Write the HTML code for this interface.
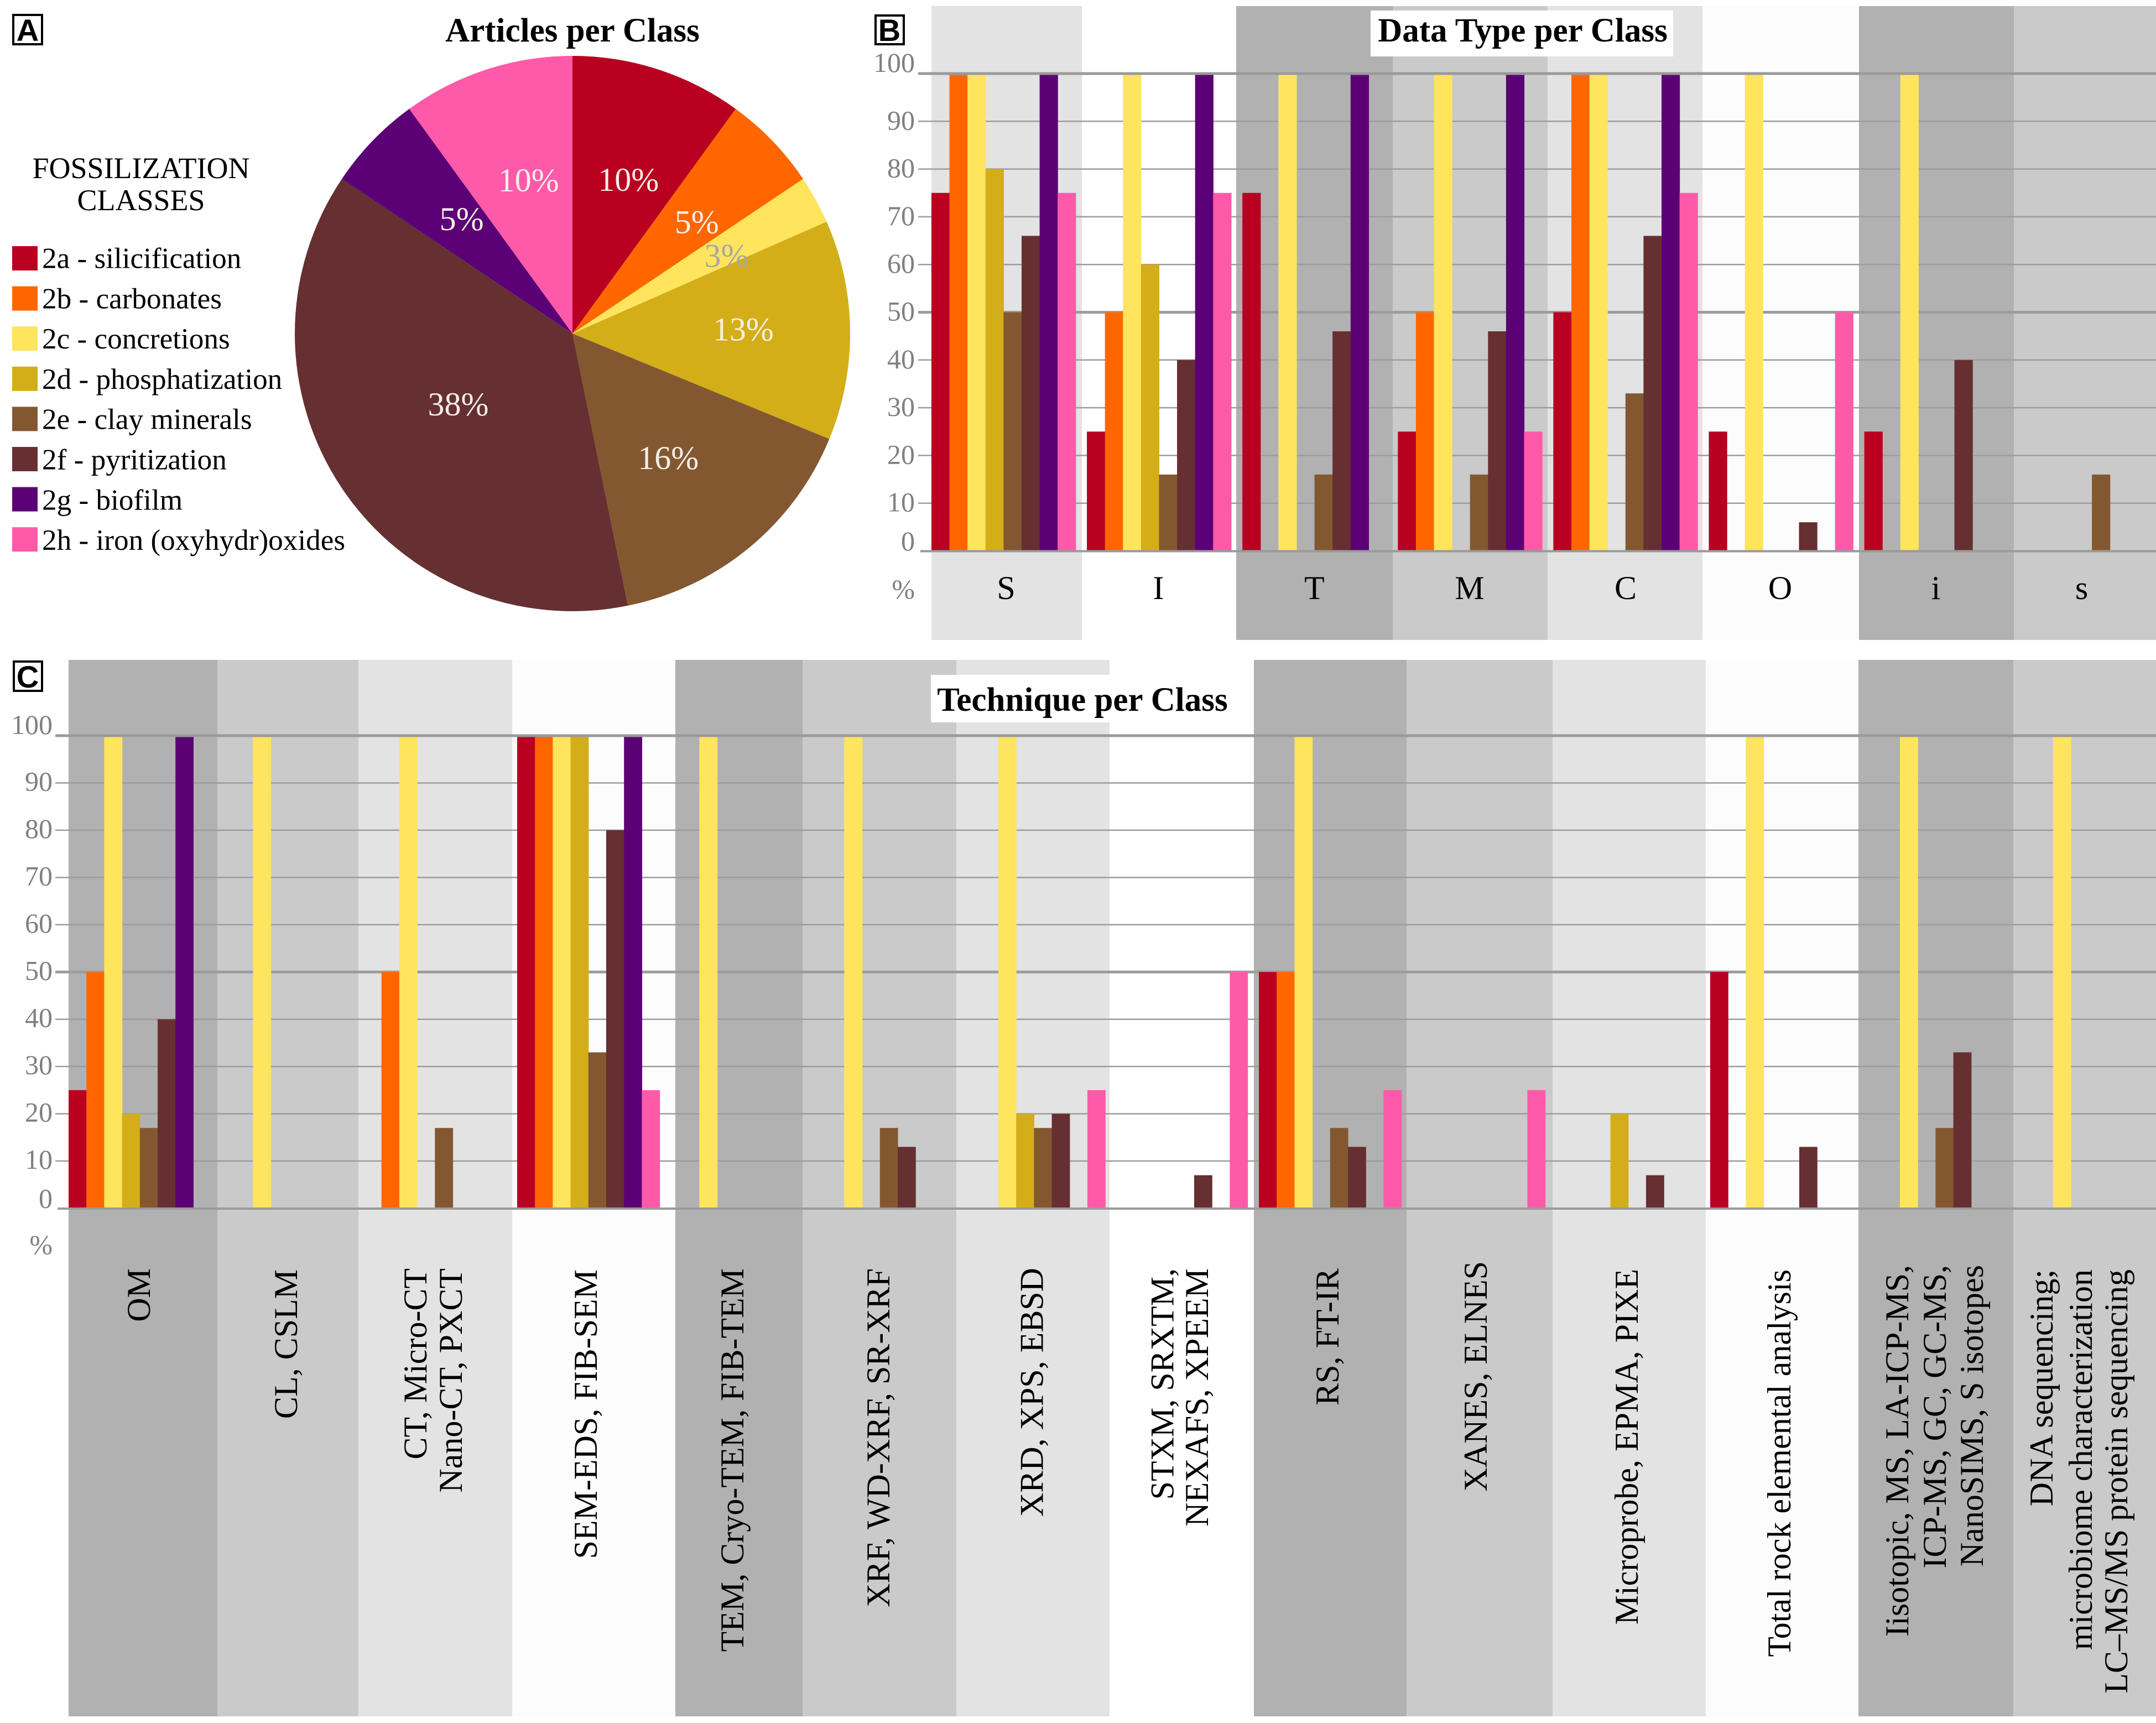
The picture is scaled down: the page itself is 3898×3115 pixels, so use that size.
<!DOCTYPE html>
<html lang="en">
<head>
<meta charset="utf-8">
<title>Fossilization classes chart</title>
<style>
  html, body { margin: 0; padding: 0; background: #ffffff; }
  svg { display: block; font-family: "Liberation Serif", "Times New Roman", serif; }
  .tick { fill: #808080; font-size: 50px; text-anchor: end; }
  .cat { fill: #000000; font-size: 60px; text-anchor: middle; }
  .vlabel { fill: #000000; font-size: 60px; text-anchor: end; }
  .title { fill: #000000; font-size: 61px; font-weight: bold; text-anchor: middle; }
  .legend-text { fill: #000000; font-size: 53.2px; }
  .legend-title { fill: #000000; font-size: 54px; text-anchor: middle; }
  .pie-label { font-size: 60px; text-anchor: middle; }
  .panel-letter { fill: #000000; font-family: "Liberation Sans", Arial, sans-serif; font-size: 56px; font-weight: bold; text-anchor: middle; }
</style>
</head>
<body>
<svg id="figure" xmlns="http://www.w3.org/2000/svg" width="3898" height="3115" viewBox="0 0 3898 3115">
  <rect x="0" y="0" width="3898" height="3115" fill="#ffffff"/>

  <g id="panel-a">
    <g id="pie"></g>
    <g id="pie-labels"></g>
    <text class="title" x="1035" y="75">Articles per Class</text>
    <text class="legend-title" x="255" y="322">FOSSILIZATION</text>
    <text class="legend-title" x="255" y="380">CLASSES</text>
    <g id="legend"></g>
    <rect x="24" y="27" width="52" height="53" fill="#ffffff" stroke="#000000" stroke-width="4"/>
    <text class="panel-letter" x="50" y="74">A</text>
  </g>

  <g id="panel-b"></g>
  <g id="panel-c"></g>

  <g>
    <rect x="2478" y="19" width="547" height="83" fill="#ffffff"/>
    <text class="title" x="2753" y="75">Data Type per Class</text>
    <rect x="1583" y="28" width="51" height="52" fill="#ffffff" stroke="#000000" stroke-width="4"/>
    <text class="panel-letter" x="1608" y="74">B</text>
  </g>
  <g>
    <rect x="1683" y="1220" width="550" height="86" fill="#ffffff"/>
    <text class="title" x="1957" y="1285">Technique per Class</text>
    <rect x="25" y="1196" width="51" height="53" fill="#ffffff" stroke="#000000" stroke-width="4"/>
    <text class="panel-letter" x="50" y="1243">C</text>
  </g>
</svg>

<script>
/* ---------- shared categories ---------- */
const seriesNames = ['2a - silicification', '2b - carbonates', '2c - concretions', '2d - phosphatization', '2e - clay minerals', '2f - pyritization', '2g - biofilm', '2h - iron (oxyhydr)oxides'];
const seriesKeys = ['silicification', 'carbonates', 'concretions', 'phosphatization', 'clay-minerals', 'pyritization', 'biofilm', 'iron-oxides'];
const seriesColors = ['#b90021', '#ff6600', '#ffe45e', '#d3ae18', '#835831', '#662f31', '#5c0075', '#ff5aa9'];

/* ---------- panel A values ---------- */
const pieValues = [10, 5.6, 2.8, 12.8, 15.6, 37.6, 5.6, 10];
const pieLabels = ['10%', '5%', '3%', '13%', '16%', '38%', '5%', '10%'];

/* ---------- panel B values ---------- */
const typeClasses = ['S', 'I', 'T', 'M', 'C', 'O', 'i', 's'];
const typeSilicification = [75, 25, 75, 25, 50, 25, 25, 0];
const typeCarbonates = [100, 50, 0, 50, 100, 0, 0, 0];
const typeConcretions = [100, 100, 100, 100, 100, 100, 100, 0];
const typePhosphatization = [80, 60, 0, 0, 0, 0, 0, 0];
const typeClayMinerals = [50, 16, 16, 16, 33, 0, 0, 16];
const typePyritization = [66, 40, 46, 46, 66, 6, 40, 0];
const typeBiofilm = [100, 100, 100, 100, 100, 0, 0, 0];
const typeIronOxides = [75, 75, 0, 25, 75, 50, 0, 0];

/* ---------- panel C values ---------- */
const techClasses = [
  ['OM'], ['CL, CSLM'], ['CT, Micro-CT', 'Nano-CT, PXCT'], ['SEM-EDS, FIB-SEM'],
  ['TEM, Cryo-TEM, FIB-TEM'], ['XRF, WD-XRF, SR-XRF'], ['XRD, XPS, EBSD'],
  ['STXM, SRXTM,', 'NEXAFS, XPEEM'], ['RS, FT-IR'], ['XANES, ELNES'],
  ['Microprobe, EPMA, PIXE'], ['Total rock elemental analysis'],
  ['Iisotopic, MS, LA-ICP-MS,', 'ICP-MS, GC, GC-MS,', 'NanoSIMS, S isotopes'],
  ['DNA sequencing;', 'microbiome characterization', 'LC\u2013MS/MS protein sequencing']
];
const techSilicification = [25, 0, 0, 100, 0, 0, 0, 0, 50, 0, 0, 50, 0, 0];
const techCarbonates = [50, 0, 50, 100, 0, 0, 0, 0, 50, 0, 0, 0, 0, 0];
const techConcretions = [100, 100, 100, 100, 100, 100, 100, 0, 100, 0, 0, 100, 100, 100];
const techPhosphatization = [20, 0, 0, 100, 0, 0, 20, 0, 0, 0, 20, 0, 0, 0];
const techClayMinerals = [17, 0, 17, 33, 0, 17, 17, 0, 17, 0, 0, 0, 17, 0];
const techPyritization = [40, 0, 0, 80, 0, 13, 20, 7, 13, 0, 7, 13, 33, 0];
const techBiofilm = [100, 0, 0, 100, 0, 0, 0, 0, 0, 0, 0, 0, 0, 0];
const techIronOxides = [0, 0, 0, 25, 0, 0, 25, 50, 25, 25, 0, 0, 0, 0];

const axisTicks = [0, 10, 20, 30, 40, 50, 60, 70, 80, 90, 100];

/* ---------- layout only (not data) ---------- */
const pieGeom = { cx: 1035, cy: 603, r: 502 };
const pieLabelRadius = [296, 302, 312, 309, 284, 243, 288, 288];
const pieLabelTurn = [0.035, 0.035, 0.035, -0.012, 0.035, 0.035, 0.035, 0.035];
const pieLabelColors = ['#f3efe8', '#f3efe8', '#a6a6a6', '#f3efe8', '#f3efe8', '#f3efe8', '#f3efe8', '#f3efe8'];

const layoutB = {
  bandEdges: [1684, 1956, 2235, 2518, 2798, 3078, 3361, 3641, 3898],
  bandFills: ['#e3e3e3', '#ffffff', '#b1b1b1', '#cacaca', '#e3e3e3', '#fcfcfc', '#b1b1b1', '#cacaca'],
  bandTop: 11, bandBottom: 1157, y100: 133, y0: 996,
  gridStart: 1660, gridEnd: 3898, tickRight: 1654, slot: 32.6,
  tickDrop: 15, percentY: 1082, groupOrigin: 1684, groupStep: 281.1
};
const layoutC = {
  bandEdges: [124, 393, 648, 926, 1221, 1451, 1729, 2006, 2267, 2543, 2807, 3084, 3360, 3640, 3898],
  bandFills: ['#b1b1b1', '#cacaca', '#e3e3e3', '#fcfcfc', '#b1b1b1', '#cacaca', '#e3e3e3', '#ffffff', '#b1b1b1', '#cacaca', '#e3e3e3', '#fcfcfc', '#b1b1b1', '#cacaca'],
  bandTop: 1193, bandBottom: 3103, y100: 1330, y0: 2184.5,
  gridStart: 100, gridEnd: 3898, tickRight: 95, slot: 32.2,
  tickDrop: 14, percentY: 2267,
  groupStarts: [124, 393, 657.5, 935, 1200, 1462, 1740.6, 1998, 2276, 2536, 2815, 3092, 3370.6, 3647.4]
};
const typeLabelNudge = [-1, -1, 0, -1, 1, -1, -1, -6];
const techLabelBaselines = [[271], [537], [771, 835], [1079], [1344], [1608], [1885.6], [2121.6, 2184], [2420], [2688], [2961], [3237], [3450, 3518, 3585], [3711, 3782, 3846]];
const techLabelTops = [2293, 2295, 2293, 2295, 2293, 2293, 2292, 2293, 2293, 2280, 2294, 2295, 2287, 2295];

/* ---------- helpers ---------- */
const NS = 'http://www.w3.org/2000/svg';
function make(tag, parent, props, content) {
  const node = document.createElementNS(NS, tag);
  Object.keys(props).forEach(function (k) { node.setAttribute(k, props[k]); });
  if (content !== undefined) node.textContent = content;
  parent.appendChild(node);
  return node;
}
function slug(s) { return String(s).toLowerCase().replace(/[^a-z0-9]+/g, '-').replace(/^-|-$/g, ''); }

/* ---------- panel A: pie ---------- */
(function drawPie() {
  const pie = document.getElementById('pie');
  const labels = document.getElementById('pie-labels');
  const total = pieValues.reduce(function (a, b) { return a + b; }, 0);
  let acc = 0;
  function angle(v) { return v / total * 2 * Math.PI; }
  pieValues.forEach(function (v, i) {
    const a0 = angle(acc);
    const a1 = angle(acc + v);
    acc += v;
    const x0 = pieGeom.cx + pieGeom.r * Math.sin(a0);
    const y0 = pieGeom.cy - pieGeom.r * Math.cos(a0);
    const x1 = pieGeom.cx + pieGeom.r * Math.sin(a1);
    const y1 = pieGeom.cy - pieGeom.r * Math.cos(a1);
    const large = (a1 - a0) > Math.PI ? 1 : 0;
    const d = 'M' + pieGeom.cx + ' ' + pieGeom.cy + 'L' + x0 + ' ' + y0 + 'A' + pieGeom.r + ' ' + pieGeom.r + ' 0 ' + large + ' 1 ' + x1 + ' ' + y1 + 'Z';
    const slice = make('path', pie, { d: d, fill: seriesColors[i] });
    
    

    const mid = (a0 + a1) / 2 + pieLabelTurn[i];
    const lx = pieGeom.cx + pieLabelRadius[i] * Math.sin(mid);
    const ly = pieGeom.cy - pieLabelRadius[i] * Math.cos(mid) + 20;
    const text = make('text', labels, { class: 'pie-label', x: lx, y: ly, fill: pieLabelColors[i] }, pieLabels[i]);
    
    
  });
})();

/* ---------- panel A: legend ---------- */
(function drawLegend() {
  const legend = document.getElementById('legend');
  seriesNames.forEach(function (name, i) {
    const entry = make('g', legend, {});
    
    
    const swatch = make('rect', entry, { x: 22, y: 445 + 72.6 * i, width: 46, height: 44, fill: seriesColors[i] });
    
    
    const label = make('text', entry, { class: 'legend-text', x: 76, y: 484.5 + 72.8 * i }, name);
    
    
  });
})();

/* ---------- bar panels ---------- */
function yAxis(layout) {
  return function (v) { return layout.y0 - v * (layout.y0 - layout.y100) / 100; };
}
function drawFrame(root, layout, prefix) {
  const y = yAxis(layout);
  layout.bandFills.forEach(function (fill, i) {
    const band = make('rect', root, { x: layout.bandEdges[i], y: layout.bandTop, width: layout.bandEdges[i + 1] - layout.bandEdges[i], height: layout.bandBottom - layout.bandTop, fill: fill });
    
    
  });
  axisTicks.forEach(function (t) {
    if (t === 0 || t === 100) return;
    const grid = make('line', root, { x1: layout.gridStart, x2: layout.gridEnd, y1: y(t), y2: y(t), stroke: '#9c9c9c', 'stroke-width': t === 50 ? 5 : 2.5 });
    
    
  });
  axisTicks.forEach(function (t) {
    const dy = t === 100 ? -3 : (t === 0 ? -1 : layout.tickDrop);
    const tick = make('text', root, { class: 'tick', x: layout.tickRight, y: y(t) + dy }, t);
    
    
  });
  const unit = make('text', root, { class: 'tick', x: layout.tickRight, y: layout.percentY }, '%');
  
  
}
function drawBars(root, layout, prefix, seriesList, groupX) {
  const y = yAxis(layout);
  seriesList.forEach(function (values, s) {
    values.forEach(function (v, g) {
      const bar = make('rect', root, { x: groupX(g) + s * layout.slot, y: y(v), width: layout.slot + 0.6, height: y(0) - y(v), fill: seriesColors[s] });
      
      
    });
  });
}
function drawAxisLines(root, layout, prefix) {
  const y = yAxis(layout);
  const top = make('line', root, { x1: layout.gridStart, x2: layout.gridEnd, y1: y(100), y2: y(100), stroke: '#9a9a9a', 'stroke-width': 5 });
  
  
  const base = make('line', root, { x1: layout.gridStart + 4, x2: layout.gridEnd, y1: y(0) + 0.5, y2: y(0) + 0.5, stroke: '#9a9a9a', 'stroke-width': 4 });
  
  
}

/* panel B */
(function drawPanelB() {
  const root = document.getElementById('panel-b');
  const series = [typeSilicification, typeCarbonates, typeConcretions, typePhosphatization, typeClayMinerals, typePyritization, typeBiofilm, typeIronOxides];
  drawFrame(root, layoutB, 'data-type');
  drawBars(root, layoutB, 'data-type', series, function (g) { return layoutB.groupOrigin + g * layoutB.groupStep; });
  drawAxisLines(root, layoutB, 'data-type');
  typeClasses.forEach(function (name, i) {
    const cx = (layoutB.bandEdges[i] + layoutB.bandEdges[i + 1]) / 2 + typeLabelNudge[i];
    const label = make('text', root, { class: 'cat', x: cx, y: 1083 }, name);
    
    
  });
})();

/* panel C */
(function drawPanelC() {
  const root = document.getElementById('panel-c');
  const series = [techSilicification, techCarbonates, techConcretions, techPhosphatization, techClayMinerals, techPyritization, techBiofilm, techIronOxides];
  drawFrame(root, layoutC, 'technique');
  drawBars(root, layoutC, 'technique', series, function (g) { return layoutC.groupStarts[g]; });
  drawAxisLines(root, layoutC, 'technique');
  techClasses.forEach(function (lines, i) {
    lines.forEach(function (line, j) {
      const label = make('text', root, { class: 'vlabel', transform: 'translate(' + techLabelBaselines[i][j] + ',' + techLabelTops[i] + ') rotate(-90)' }, line);
      
      
    });
  });
})();
</script>
</body>
</html>
